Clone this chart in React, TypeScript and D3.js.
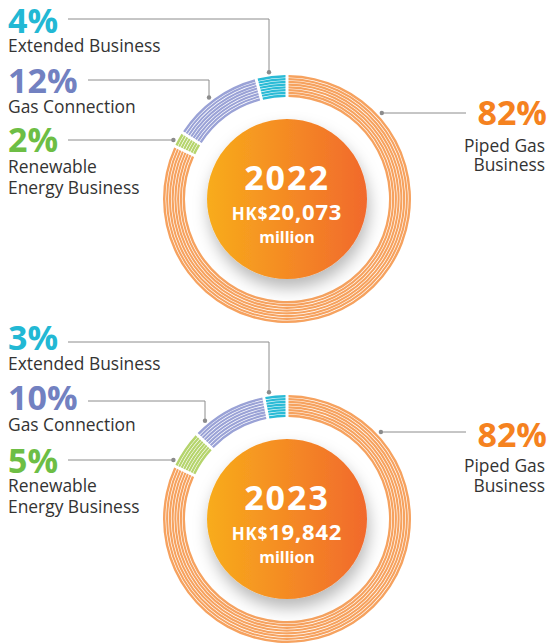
import React from "react";
import * as d3 from "d3";

const years = ["2022", "2023"];
const totals = ["20,073", "19,842"];
const categories = ["Piped Gas Business", "Renewable Energy Business", "Gas Connection", "Extended Business"];
const shares2022 = [82, 2, 12, 4];
const shares2023 = [82, 5, 10, 3];
const ringColors = ["#F6A25F", "#B5D46C", "#9AA2D6", "#2ABBD6"];
const pctColors = ["#F5821F", "#6DBE45", "#7281C1", "#22B8D4"];

const W = 551;
const H = 643;
const CX = 287;
const R_OUT = 124;
const R_IN = 102;
const R_DOT = 128;
const BANDS = 8;
const FONT = "'Open Sans', sans-serif";

type Leader = { idx: number; mode: "v" | "h"; x0: number; lineY: number; anchorX?: number; side?: number };

const charts = [
  {
    cy: 199,
    shares: shares2022,
    pctY: [125, 152, 93, 33],
    nameY: [[152, 171], [173, 194], [113], [52]],
    leaders: [
      { idx: 0, mode: "h", x0: 466, lineY: 113, side: 1 },
      { idx: 1, mode: "h", x0: 68, lineY: 140, side: -1 },
      { idx: 2, mode: "v", x0: 88, lineY: 80, anchorX: 209 },
      { idx: 3, mode: "v", x0: 68, lineY: 19, anchorX: 269 },
    ] as Leader[],
  },
  {
    cy: 519,
    shares: shares2023,
    pctY: [447, 473, 410, 350],
    nameY: [[472, 492], [492, 513], [431], [370]],
    leaders: [
      { idx: 0, mode: "h", x0: 466, lineY: 432, side: 1 },
      { idx: 1, mode: "h", x0: 68, lineY: 460, side: -1 },
      { idx: 2, mode: "v", x0: 88, lineY: 401, anchorX: 205 },
      { idx: 3, mode: "v", x0: 68, lineY: 342, anchorX: 269 },
    ] as Leader[],
  },
];

const nameLines = [["Piped Gas", "Business"], ["Renewable", "Energy Business"], ["Gas Connection"], ["Extended Business"]];

export default function App() {
  const pie = d3.pie<number>().sort(null).value((d) => d).startAngle(0).endAngle(Math.PI * 2);
  const bandW = (R_OUT - R_IN) / BANDS;
  const gapR = 0.65;

  return (
    <svg width={W} height={H} style={{ position: "absolute", left: 0, top: 0, background: "#fff" }}>
      <defs>
        <linearGradient id="core" x1="0" x2="1" y1="0" y2="0">
          <stop offset="0%" stopColor="#F8AC1B" />
          <stop offset="100%" stopColor="#F1692D" />
        </linearGradient>
        <filter id="shadow" x="-40%" y="-40%" width="180%" height="180%">
          <feDropShadow dx="2" dy="9" stdDeviation="8" floodColor="#000" floodOpacity="0.28" />
        </filter>
      </defs>
      {charts.map((c, ci) => {
        const arcs = pie(c.shares);
        return (
          <g key={ci}>
            <g transform={`translate(${CX},${c.cy})`}>
              {arcs.map((a, i) =>
                d3.range(BANDS).map((b) => {
                  const inner = R_IN + b * bandW + (b > 0 ? gapR / 2 : 0);
                  const outer = R_IN + (b + 1) * bandW - (b < BANDS - 1 ? gapR / 2 : 0);
                  const path = d3
                    .arc<any>()
                    .innerRadius(inner)
                    .outerRadius(outer)
                    .padAngle(3 / 113)
                    .padRadius(113)(a as any);
                  return <path key={`${i}-${b}`} d={path || ""} fill={ringColors[i]} />;
                })
              )}
              <circle r={80} fill="url(#core)" filter="url(#shadow)" />
              <text x={0} y={-9} textAnchor="middle" fill="#fff" fontFamily={FONT} fontWeight={700} fontSize={34} letterSpacing={2}>
                {years[ci]}
              </text>
              <text x={0} y={21} textAnchor="middle" fill="#fff" fontFamily={FONT} fontWeight={700} letterSpacing={0.8}>
                <tspan fontSize={17}>HK$</tspan>
                <tspan fontSize={22}>{totals[ci]}</tspan>
              </text>
              <text x={0} y={44} textAnchor="middle" fill="#fff" fontFamily={FONT} fontWeight={700} fontSize={16}>
                million
              </text>
            </g>
            {c.leaders.map((l, k) => {
              let dx: number, dy: number;
              if (l.mode === "v") {
                dx = l.anchorX!;
                dy = c.cy - Math.sqrt(R_DOT * R_DOT - (dx - CX) ** 2);
              } else {
                dy = l.lineY;
                dx = CX + (l.side || 1) * Math.sqrt(R_DOT * R_DOT - (dy - c.cy) ** 2);
              }
              const d = `M${l.x0},${l.lineY}H${dx}V${dy}`;
              return (
                <g key={k}>
                  <path d={d} fill="none" stroke="#8C8C8C" strokeWidth={1} />
                  <circle cx={dx} cy={dy} r={2.2} fill="#8C8C8C" />
                </g>
              );
            })}
            {categories.map((cat, i) => {
              const right = i === 0;
              const x = right ? 547 : 8;
              const anchor = right ? "end" : "start";
              return (
                <g key={cat}>
                  <text x={x} y={c.pctY[i]} textAnchor={anchor} fill={pctColors[i]} fontFamily={FONT} fontWeight={700} fontSize={34}>
                    {c.shares[i]}%
                  </text>
                  {nameLines[i].map((ln, j) => (
                    <text key={j} x={right ? 545 : 8} y={c.nameY[i][j]} textAnchor={anchor} fill="#333" fontFamily={FONT} fontSize={17.4}>
                      {ln}
                    </text>
                  ))}
                </g>
              );
            })}
          </g>
        );
      })}
    </svg>
  );
}
